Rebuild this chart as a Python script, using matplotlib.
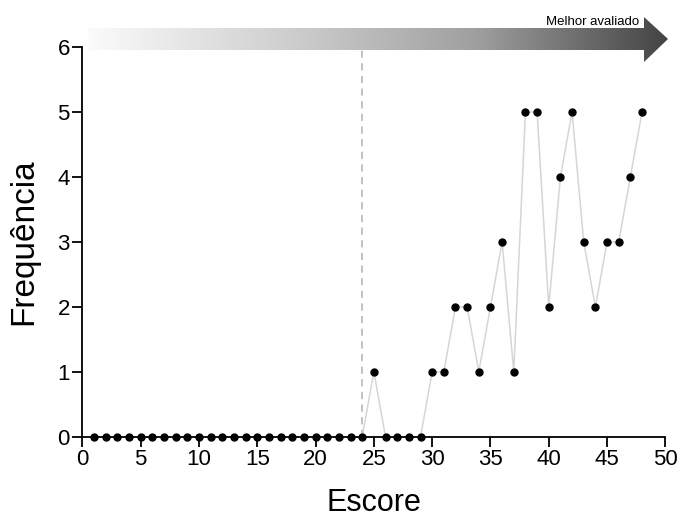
import numpy as np
import matplotlib.pyplot as plt
from matplotlib.patches import Polygon
from matplotlib.colors import LinearSegmentedColormap

plt.rcParams['font.family'] = ['Liberation Sans', 'DejaVu Sans']

# dados
escore = list(range(1, 49))
frequencia = [0] * 24 + [1, 0, 0, 0, 0, 1, 1, 2, 2, 1, 2, 3, 1, 5, 5, 2, 4, 5, 3, 2, 3, 3, 4, 5]
corte = 24
xticks = list(range(0, 51, 5))
yticks = list(range(0, 7))

fig = plt.figure(figsize=(6.81, 5.17), dpi=100)
ax = fig.add_axes([0.121, 0.155, 0.856, 0.754])

ax.plot(escore, frequencia, color='#d6d6d6', lw=1.1, zorder=1)
ax.plot(escore, frequencia, 'o', color='black', ms=5, zorder=3, clip_on=False)
ax.plot([corte, corte], [0, 6], ls=(0, (4, 3)), color='#bdbdbd', lw=1.3, zorder=2)

ax.set_xlim(0, 50)
ax.set_ylim(0, 6)
ax.set_xticks(xticks)
ax.set_yticks(yticks)
ax.spines['top'].set_visible(False)
ax.spines['right'].set_visible(False)
for s in ['left', 'bottom']:
    ax.spines[s].set_linewidth(1.3)
ax.tick_params(direction='out', length=7, width=1.3, labelsize=16, pad=2)
ax.set_xlabel('Escore', fontsize=22, labelpad=13)
ax.set_ylabel('Frequência', fontsize=24, labelpad=13)

# seta em degradê
ov = fig.add_axes([0, 0, 1, 1], zorder=5)
ov.set_xlim(0, 681)
ov.set_ylim(517, 0)
ov.axis('off')
seta = Polygon([[88, 28], [644, 28], [644, 17], [668, 39], [644, 62], [644, 50], [88, 50]],
               closed=True, facecolor='none', edgecolor='none')
ov.add_patch(seta)
cinza = LinearSegmentedColormap.from_list('cinza', ['#fbfbfb', '#d0d0d0', '#a0a0a0', '#444444'])
grad = np.linspace(0, 1, 256).reshape(1, -1)
img = ov.imshow(grad, cmap=cinza, extent=[88, 668, 62, 17],
                aspect='auto', interpolation='bilinear')
img.set_clip_path(seta)
ov.text(639, 22, 'Melhor avaliado', fontsize=9.5, ha='right', va='center')

fig.savefig('out.png', dpi=100)
